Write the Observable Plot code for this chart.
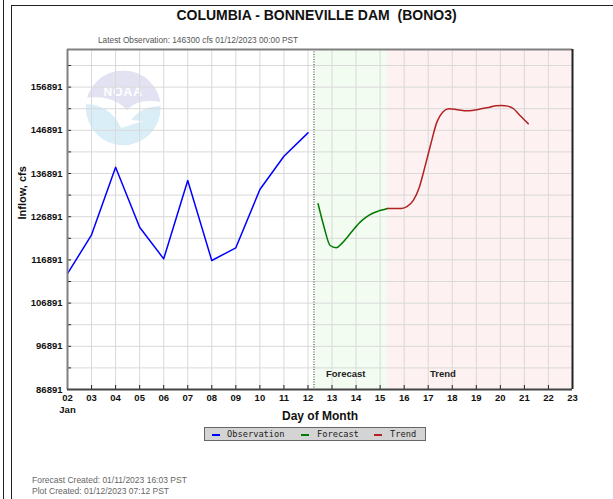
<!DOCTYPE html>
<html>
<head>
<meta charset="utf-8">
<script src="https://cdn.jsdelivr.net/npm/d3@7"></script>
<script src="https://cdn.jsdelivr.net/npm/@observablehq/plot@0.6"></script>
<style>
  body { margin: 0; background: #fff; }
  #wrap { position: relative; width: 613px; height: 499px; overflow: hidden; font-family: "Liberation Sans", Arial, sans-serif; }
  #wrap svg { position: absolute; left: 0; top: 0; }
  .abs { position: absolute; white-space: nowrap; }
  .legend span { position: absolute; }
  .dash { height: 2px; width: 8px; top: 6px; }
  .ltxt { font-family: "DejaVu Sans Mono", monospace; font-size: 8.7px; line-height: 12px; top: 0; color: #222; }
</style>
</head>
<body>
<div id="wrap">
  <div class="abs" style="left:3px;top:0;width:1px;height:499px;background:#222"></div>
  <div class="abs" style="left:11px;top:5px;width:610px;height:500px;border-left:1px solid #222;border-top:1px solid #222"></div>
  <div class="abs" style="left:10px;width:613px;top:8px;line-height:15px;text-align:center;font-size:14px;font-weight:bold;color:#111">COLUMBIA - BONNEVILLE DAM&nbsp; (BONO3)</div>
  <div class="abs" style="left:98px;top:35px;line-height:10px;font-size:8.3px;color:#555">Latest Observation: 146300 cfs 01/12/2023 00:00 PST</div>
  <div class="abs legend" style="left:204px;top:427px;width:220px;height:12px;background:#d4d4d4;border:1px solid #666">
    <span class="dash" style="left:7px;background:#0000ff"></span>
    <span class="ltxt" style="left:22px">Observation</span>
    <span class="dash" style="left:96px;background:#007a00"></span>
    <span class="ltxt" style="left:112px">Forecast</span>
    <span class="dash" style="left:169px;background:#b22222"></span>
    <span class="ltxt" style="left:185px">Trend</span>
  </div>
  <div class="abs" style="left:32px;top:475px;line-height:10px;font-size:8.5px;color:#666">Forecast Created: 01/11/2023 16:03 PST</div>
  <div class="abs" style="left:32px;top:486px;line-height:10px;font-size:8.5px;color:#666">Plot Created: 01/12/2023 07:12 PST</div>
</div>
<script>
// ---- data ----
const obsDays = [2, 3, 4, 5, 6, 7, 8, 9, 10, 11, 12];
const obsValues = [113700, 122700, 138350, 124460, 117140, 135270, 116750, 119690, 133190, 140900, 146300];

const fcstDays = [12.42, 12.67, 12.92, 13.17, 13.42, 13.67, 13.92, 14.17, 14.42, 14.67, 14.92, 15.17, 15.31];
const fcstValues = [129890, 124470, 120230, 119700, 120770, 122380, 124100, 125630, 126780, 127640, 128180, 128570, 128800];

const trendDays = [15.31, 15.63, 15.88, 16.13, 16.38, 16.63, 16.86, 17.11, 17.36, 17.6, 17.85, 18.1, 18.33,
                   18.58, 18.83, 19.08, 19.31, 19.56, 19.81, 20.05, 20.3, 20.55, 20.78, 20.97, 21.16];
const trendValues = [128800, 128800, 128800, 129260, 130650, 133730, 138360, 143770, 148790, 151100, 151880, 151790, 151560,
                     151410, 151490, 151720, 152020, 152250, 152570, 152650, 152490, 151880, 150560, 149470, 148410];

const dayTicks = [2, 3, 4, 5, 6, 7, 8, 9, 10, 11, 12, 13, 14, 15, 16, 17, 18, 19, 20, 21, 22, 23];
const dayTickLabels = ["02", "03", "04", "05", "06", "07", "08", "09", "10", "11", "12", "13", "14", "15", "16", "17", "18", "19", "20", "21", "22", "23"];
const yMajorTicks = [86891, 96891, 106891, 116891, 126891, 136891, 146891, 156891];
const yAllTicks = [86891, 91891, 96891, 101891, 106891, 111891, 116891, 121891, 126891, 131891, 136891, 141891, 146891, 151891, 156891, 161891];

const nowDay = 12.25;          // plot created time marker
const forecastEnd = 15.31;     // end of forecast shading
const xDomain = [2, 23];
const yDomain = [86891, 165600];

const zoneLabels = [{x: 13.57, text: "Forecast"}, {x: 17.61, text: "Trend"}];

const obs = obsDays.map((d, i) => ({day: d, value: obsValues[i]}));
const fcst = fcstDays.map((d, i) => ({day: d, value: fcstValues[i]}));
const trend = trendDays.map((d, i) => ({day: d, value: trendValues[i]}));

const tickLenY = 926;   // inside tick length in y units (~4px)
const tickLenX = 0.17;  // inside tick length in x units (~4px)

const plot = Plot.plot({
  width: 613,
  height: 499,
  marginLeft: 67,
  marginRight: 41,
  marginTop: 49,
  marginBottom: 110,
  style: {fontFamily: "Liberation Sans, Arial, sans-serif", fontSize: "9.5px", fontWeight: "bold", color: "#111", background: "transparent"},
  x: {domain: xDomain},
  y: {domain: yDomain},
  marks: [
    Plot.rect([{x1: nowDay, x2: forecastEnd}], {x1: "x1", x2: "x2", fill: "#f2fcf1"}),
    Plot.rect([{x1: forecastEnd, x2: xDomain[1]}], {x1: "x1", x2: "x2", fill: "#fdf1f1"}),
    Plot.gridX(dayTicks, {stroke: "#d9d9d9", strokeOpacity: 1}),
    Plot.gridY(yAllTicks, {stroke: "#d9d9d9", strokeOpacity: 1}),
    Plot.ruleX([nowDay], {stroke: "#333", strokeDasharray: "1,1.5", strokeWidth: 1}),
    Plot.line(obs, {x: "day", y: "value", stroke: "#0000ff", strokeWidth: 1.5}),
    Plot.line(fcst, {x: "day", y: "value", stroke: "#007a00", strokeWidth: 1.5, curve: "monotone-x"}),
    Plot.line(trend, {x: "day", y: "value", stroke: "#b22222", strokeWidth: 1.5, curve: "monotone-x"}),
    Plot.ruleX(dayTicks, {x: d => d, y1: yDomain[0], y2: yDomain[0] + tickLenY, stroke: "#222"}),
    Plot.ruleY(yAllTicks, {y: d => d, x1: xDomain[0], x2: xDomain[0] + tickLenX, stroke: "#222"}),
    Plot.axisX(dayTicks, {tickSize: 0, tickPadding: 5, tickFormat: (d, i) => dayTickLabels[i], label: null, fontSize: 9.5, fontWeight: "bold"}),
    Plot.axisY(yMajorTicks, {tickSize: 0, tickPadding: 5, tickFormat: d => String(d), label: null, fontSize: 9.5, fontWeight: "bold"}),
    Plot.text(["Jan"], {x: xDomain[0], frameAnchor: "bottom", dy: 23, text: d => d, fontSize: 9.5, fontWeight: "bold"}),
    Plot.text(["Day of Month"], {frameAnchor: "bottom", dy: 30, text: d => d, fontSize: 12, fontWeight: "bold"}),
    Plot.text(["Inflow, cfs"], {frameAnchor: "left", dx: -45, rotate: -90, text: d => d, fontSize: 11, fontWeight: "bold"}),
    Plot.text(zoneLabels, {x: "x", text: "text", frameAnchor: "bottom", dy: -13, fontSize: 9.5, fontWeight: "bold", fill: "#222"}),
    Plot.ruleY([yDomain[1]], {stroke: "#808080", strokeWidth: 2}),
    Plot.ruleX([xDomain[0]], {stroke: "#808080", strokeWidth: 2}),
    Plot.ruleY([yDomain[0]], {stroke: "#444", strokeWidth: 2}),
    Plot.ruleX([xDomain[1]], {stroke: "#222", strokeWidth: 2})
  ]
});

// faint NOAA emblem in the background (decoration)
(function addLogo() {
  const sx = plot.scale("x"), sy = plot.scale("y");
  const cx = sx.apply(4.34), cy = sy.apply(151950), r = 37.5;
  const g = d3.create("svg:g").attr("opacity", 0.85);
  const clipId = "noaaClip";
  g.append("clipPath").attr("id", clipId).append("circle").attr("cx", cx).attr("cy", cy).attr("r", r);
  const cg = g.append("g").attr("clip-path", `url(#${clipId})`);
  cg.append("circle").attr("cx", cx).attr("cy", cy).attr("r", r).attr("fill", "#d4ecf6");
  cg.append("path").attr("fill", "#dedef0")
    .attr("d", `M${cx - r},${cy - r} L${cx + r},${cy - r} L${cx + r},${cy - 6} Q${cx + 14},${cy - 10} ${cx + 4},${cy + 2} Q${cx - 12},${cy - 14} ${cx - r},${cy - 10} Z`);
  cg.append("path").attr("fill", "#ffffff")
    .attr("d", `M${cx - r},${cy - 10} Q${cx - 12},${cy - 14} ${cx + 4},${cy + 2} Q${cx + 14},${cy - 10} ${cx + r},${cy - 6} L${cx + r},${cy - 2} Q${cx + 18},${cy - 2} ${cx + 8},${cy + 12} L${cx + 20},${cy + 13} L${cx - 2},${cy + 20} Q${cx - 14},${cy - 4} ${cx - r},${cy - 4} Z`);
  g.append("text").attr("x", cx).attr("y", cy - 12).attr("text-anchor", "middle")
    .attr("font-size", 12).attr("font-weight", "bold").attr("fill", "#fff").attr("letter-spacing", 1).text("NOAA");
  const svg = plot;
  const firstGrid = svg.querySelectorAll("g[aria-label='x-grid'], g[aria-label='grid']")[0];
  const node = g.node();
  if (firstGrid) svg.insertBefore(node, firstGrid); else svg.appendChild(node);
})();

document.getElementById("wrap").prepend(plot);
</script>
</body>
</html>
